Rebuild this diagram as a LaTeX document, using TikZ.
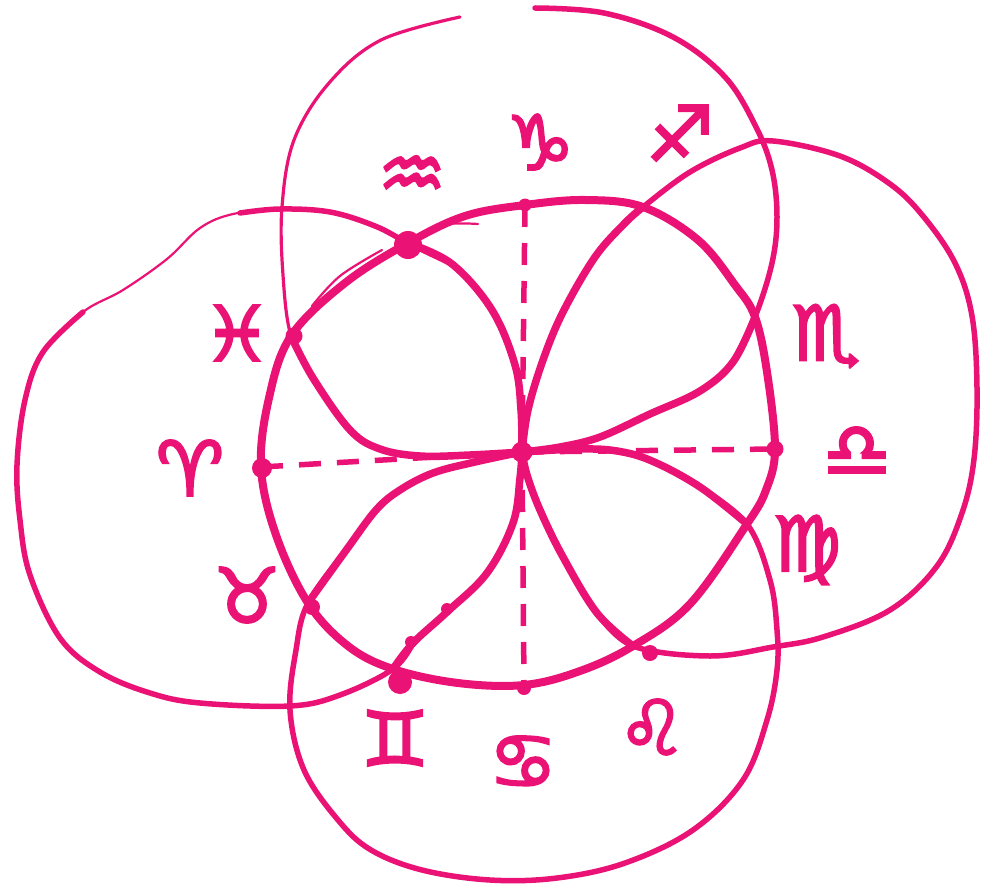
\documentclass[tikz,border=0pt]{standalone}
\usepackage{fontspec}
\newfontfamily\zod[FakeBold=3]{DejaVu Sans}
\definecolor{ink}{RGB}{235,18,118}
\tikzset{
  ring/.style={draw=ink, line width=8pt, line cap=round, line join=round},
  petal/.style={draw=ink, line width=7.5pt, line cap=round, line join=round},
  outer/.style={draw=ink, line width=5.5pt, line cap=round, line join=round},
  outerthin/.style={draw=ink, line width=3.2pt, line cap=round},
  hair/.style={draw=ink, line width=2.2pt, line cap=round},
  dashline/.style={draw=ink, line width=5.5pt, dash pattern=on 22pt off 16pt},
  dotmark/.style={circle, fill=ink, inner sep=0pt, minimum size=#1},
  zlabel/.style={text=ink, inner sep=0pt, font=\zod\fontsize{76}{76}\selectfont}
}
\begin{document}
\begin{tikzpicture}[x=1pt,y=-1pt]
\useasboundingbox (0,0) rectangle (982,888);
% key points
\coordinate (C) at (522,452);
\coordinate (T) at (525,205);
\coordinate (Aq) at (408,243);
\coordinate (Sg) at (643,207);
\coordinate (Sc) at (755,317);
\coordinate (Li) at (775,449);
\coordinate (Vi) at (747,524);
\coordinate (Le) at (633,646);
\coordinate (Cn) at (524,685);
\coordinate (Ge) at (393,669);
\coordinate (Ta) at (308,603);
\coordinate (Ar) at (261,467);
\coordinate (Pi) at (291,336);
% dashed axes
\draw[dashline] (T) -- (C);
\draw[dashline] (Ar) -- (C);
\draw[dashline] (C) -- (Li);
\draw[dashline] (C) -- (Cn);
% outer loops
\draw[outerthin] plot[smooth, tension=0.6] coordinates {(313,378) (Pi) (283,275) (282,207) (294,140) (329,83) (381,40) (460,17)};
\draw[outer] plot[smooth, tension=0.6] coordinates {(535,8) (604,13) (673,37) (725,77) (756,127) (772,170) (777,217) (772,263) (Sc) (733,362)};
\draw[outer] plot[smooth, tension=0.6] coordinates {(452,264) (Aq) (375,226) (330,212) (280,209) (240,213)};
\draw[hair] plot[smooth, tension=0.6] coordinates {(280,209) (233,214) (200,228) (167,259) (123,290) (83,312) (43,352)};
\draw[outer] plot[smooth, tension=0.6] coordinates {(83,312) (43,352) (25,400) (17,465) (20,520) (30,575) (60,638) (100,672) (150,693) (200,703) (290,706) (340,695) (Ge) (413,643)};
\draw[outer] plot[smooth, tension=0.6] coordinates {(625,223) (Sg) (690,172) (740,148) (773,141) (840,156) (890,184) (923,216) (955,263) (972,316) (977,388) (974,459) (962,513) (937,566) (890,610) (823,637) (773,647) (710,656) (Le) (597,613)};
\draw[outer] plot[smooth, tension=0.6] coordinates {(347,549) (Ta) (296,650) (290,710) (304,770) (338,820) (371,850) (422,870) (490,880) (557,878) (625,863) (693,830) (743,780) (767,720) (777,670) (777,630) (770,580) (Vi) (700,487)};
% main ring
\draw[ring] plot[smooth cycle, tension=0.6] coordinates {(Aq) (465,216) (T) (585,200) (Sg) (698,240) (735,285) (Sc) (767,372) (Li) (766,490) (Vi) (690,604) (Le) (580,671) (Cn) (458,683) (Ge) (348,646) (Ta) (276,535) (Ar) (269,398) (Pi) (345,283)};
% stray strokes
\draw[hair] plot[smooth, tension=0.6] coordinates {(312,306) (340,276) (382,250)};
\draw[hair] plot[smooth, tension=0.6] coordinates {(425,232) (450,224) (478,224)};
% petals
\draw[petal] plot[smooth, tension=0.6] coordinates {(C) (470,455) (420,456) (380,449) (350,430) (313,378) (Pi)};
\draw[petal] plot[smooth, tension=0.6] coordinates {(C) (521,410) (515,365) (492,310) (452,264) (Aq)};
\draw[petal] plot[smooth, tension=0.6] coordinates {(C) (528,410) (543,360) (563,312) (595,257) (625,223) (Sg)};
\draw[petal] plot[smooth, tension=0.6] coordinates {(C) (560,447) (600,437) (650,414) (700,391) (733,362) (Sc)};
\draw[petal] plot[smooth, tension=0.6] coordinates {(C) (580,449) (617,451) (652,461) (700,487) (Vi)};
\draw[petal] plot[smooth, tension=0.6] coordinates {(C) (527,475) (540,510) (563,557) (597,613) (Le)};
\draw[petal] plot[smooth, tension=0.6] coordinates {(C) (520,478) (513,523) (487,573) (447,612) (413,643) (Ge)};
\draw[petal] plot[smooth, tension=0.6] coordinates {(C) (475,462) (433,473) (400,490) (376,510) (347,549) (Ta)};
% dots
\node[dotmark=21pt] (dC) at (C) {};
\node[dotmark=13pt] (dT) at (T) {};
\node[dotmark=28pt] (dAq) at (408,245) {};
\node[dotmark=17pt] (dPi) at (294,336) {};
\node[dotmark=20pt] (dAr) at (262,468) {};
\node[dotmark=16pt] (dTa) at (312,607) {};
\node[dotmark=24pt] (dGe) at (400,682) {};
\node[dotmark=14pt] (dCn) at (524,688) {};
\node[dotmark=16pt] (dLe) at (650,653) {};
\node[dotmark=17pt] (dLi) at (775,449) {};
\node[dotmark=12pt] (dG1) at (447,609) {};
\node[dotmark=12pt] (dG2) at (411,642) {};
% zodiac labels
\node[zlabel] (lAq) at (412,178) {♒};
\node[zlabel] (lCp) at (540,142) {♑};
\node[zlabel] (lSg) at (680,133) {♐};
\node[zlabel] (lSc) at (826,336) {♏};
\node[zlabel] (lLi) at (857,452) {♎};
\node[zlabel] (lVi) at (807,550) {♍};
\node[zlabel] (lLe) at (652,727) {♌};
\node[zlabel] (lCn) at (523,762) {♋};
\node[zlabel] (lGe) at (395,738) {♊};
\node[zlabel] (lTa) at (247,595) {♉};
\node[zlabel] (lAr) at (190,468) {♈};
\node[zlabel] (lPi) at (237,333) {♓};
\end{tikzpicture}
\end{document}
